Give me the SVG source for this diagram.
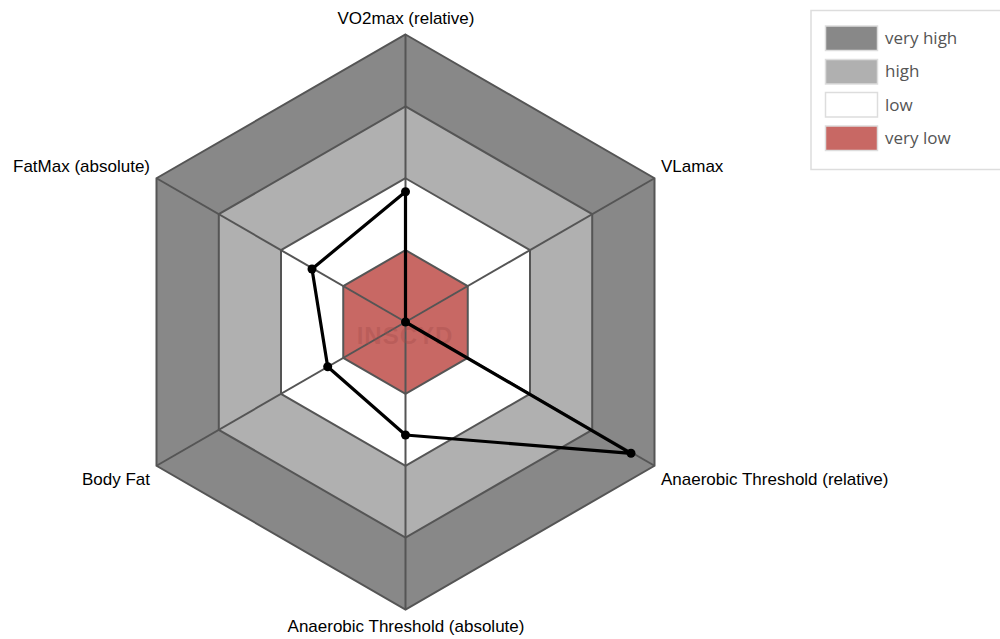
<svg xmlns="http://www.w3.org/2000/svg" width="1000" height="639" viewBox="0 0 1000 639">
<style>
.ring{stroke:#555555;stroke-width:2;stroke-linejoin:miter}
.spoke{stroke:#555555;stroke-width:2}
.lbl{font-family:"Liberation Sans",Arial,sans-serif;font-size:17px;fill:#000}
.leg{font-family:"Open Sans","Noto Sans",sans-serif;font-size:17px;fill:#555}
.sw{stroke:#dddddd;stroke-width:1.5}
.dot{fill:#000}
</style>
<rect width="1000" height="639" fill="#ffffff"/>
<g id="rings">
<polygon class="ring" fill="#888888" points="405.5,34.5 654.5,178.25 654.5,465.75 405.5,609.5 156.5,465.75 156.5,178.25"/>
<polygon class="ring" fill="#b0b0b0" points="405.5,106.4 592.2,214.2 592.2,429.8 405.5,537.6 218.8,429.8 218.8,214.2"/>
<polygon class="ring" fill="#ffffff" points="405.5,178.25 530,250.1 530,393.9 405.5,465.75 281,393.9 281,250.1"/>
<polygon class="ring" fill="#c86864" points="405.5,250.1 467.75,286.1 467.75,357.9 405.5,393.9 343.25,357.9 343.25,286.1"/>
</g>
<g id="spokes">
<line class="spoke" x1="405.5" y1="322" x2="405.5" y2="34.5"/>
<line class="spoke" x1="405.5" y1="322" x2="654.5" y2="178.25"/>
<line class="spoke" x1="405.5" y1="322" x2="654.5" y2="465.75"/>
<line class="spoke" x1="405.5" y1="322" x2="405.5" y2="609.5"/>
<line class="spoke" x1="405.5" y1="322" x2="156.5" y2="465.75"/>
<line class="spoke" x1="405.5" y1="322" x2="156.5" y2="178.25"/>
</g>
<text id="watermark" x="405" y="344" text-anchor="middle" font-family="Liberation Sans,Arial,sans-serif" font-weight="bold" font-size="24" fill="#a04a48" fill-opacity="0.35" letter-spacing="1">INSCYD</text>
<g id="data">
<polygon points="405.5,191.7 405.5,322 631,453.3 405.5,435 327.7,366.7 312,269" fill="none" stroke="#000" stroke-width="3.2" stroke-linejoin="round"/>
<circle class="dot" cx="405.5" cy="191.7" r="4.5"/>
<circle class="dot" cx="405.5" cy="322" r="4.5"/>
<circle class="dot" cx="631" cy="453.3" r="4.5"/>
<circle class="dot" cx="405.5" cy="435" r="4.5"/>
<circle class="dot" cx="327.7" cy="366.7" r="4.5"/>
<circle class="dot" cx="312" cy="269" r="4.5"/>
</g>
<g id="labels">
<text class="lbl" x="406" y="24" text-anchor="middle">VO2max (relative)</text>
<text class="lbl" x="661" y="172">VLamax</text>
<text class="lbl" x="661" y="485">Anaerobic Threshold (relative)</text>
<text class="lbl" x="406" y="632" text-anchor="middle">Anaerobic Threshold (absolute)</text>
<text class="lbl" x="150" y="485" text-anchor="end">Body Fat</text>
<text class="lbl" x="150" y="172" text-anchor="end">FatMax (absolute)</text>
</g>
<g id="legend">
<rect x="811" y="10.5" width="200" height="159" fill="#ffffff" stroke="#dddddd" stroke-width="1.5"/>
<rect class="sw" x="825.5" y="26" width="52" height="24.5" fill="#888888"/>
<rect class="sw" x="825.5" y="59.5" width="52" height="24.5" fill="#b0b0b0"/>
<rect class="sw" x="825.5" y="92.5" width="52" height="24.5" fill="#ffffff"/>
<rect class="sw" x="825.5" y="126" width="52" height="24.5" fill="#c86864"/>
<text class="leg" x="885" y="44">very high</text>
<text class="leg" x="885" y="77">high</text>
<text class="leg" x="885" y="110.5">low</text>
<text class="leg" x="885" y="144">very low</text>
</g>
</svg>
